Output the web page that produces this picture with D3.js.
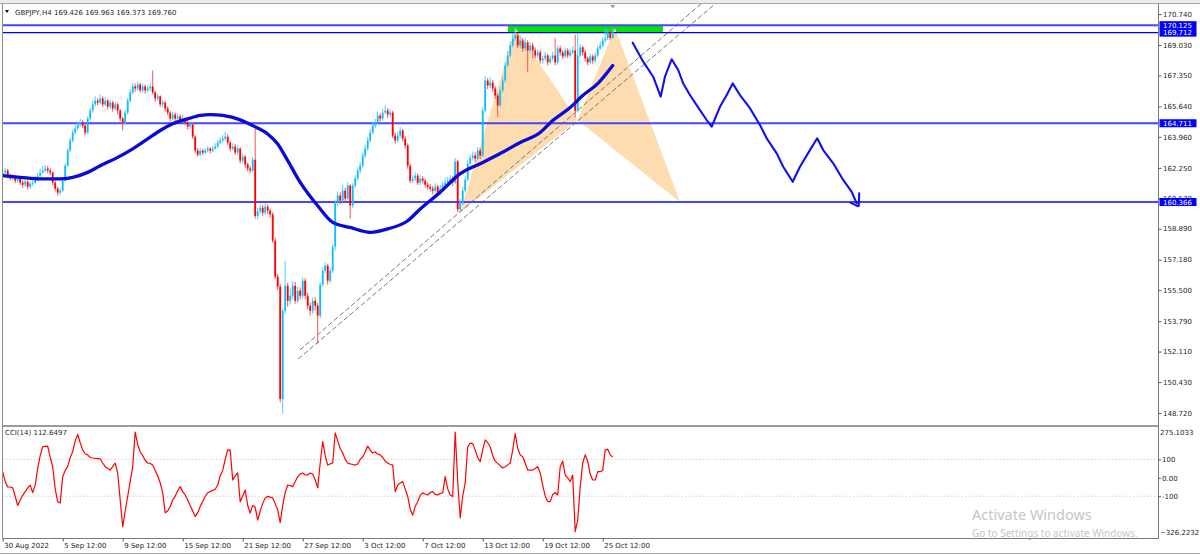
<!DOCTYPE html>
<html><head><meta charset="utf-8">
<script src="https://cdn.jsdelivr.net/npm/d3@7"></script>
<style>
html,body{margin:0;padding:0;background:#fff;overflow:hidden;}
svg{display:block;font-family:"DejaVu Sans",sans-serif;}
</style></head><body>
<svg id="c" width="1200" height="555"></svg>
<script>
// ---------------- DATA ----------------
const symbol = "GBPJPY,H4";
const firstOpen = 161.90;
const closes = [
161.99,162.10,161.82,161.66,161.77,161.54,161.66,161.43,161.32,161.49,
161.21,161.38,161.43,161.66,161.82,161.99,162.10,162.21,162.10,161.99,
161.43,161.10,160.88,160.99,161.54,162.37,163.20,163.76,164.20,164.42,
164.64,164.75,164.58,164.20,164.97,165.41,165.75,165.96,165.85,166.08,
165.75,165.96,165.63,165.85,165.52,165.75,165.41,164.97,164.75,165.30,
165.96,166.41,166.74,166.63,166.85,166.52,166.74,166.52,166.63,166.74,
166.41,166.08,166.19,165.75,165.85,165.52,165.30,164.97,165.19,164.97,
165.08,164.86,164.97,164.75,164.53,164.64,163.97,163.20,162.98,163.20,
163.09,163.20,163.31,163.20,163.31,163.42,163.64,163.76,163.86,163.97,
163.64,163.31,163.42,163.09,163.31,162.65,162.87,162.43,162.21,162.10,
162.70,159.60,159.85,160.05,159.78,160.11,159.89,159.67,158.23,156.24,
155.69,149.50,154.36,155.74,154.91,155.19,155.74,154.91,155.47,155.19,
156.02,155.19,154.64,154.36,154.91,154.64,154.09,155.80,156.57,156.85,
156.02,156.57,157.90,160.30,160.72,160.44,160.99,160.55,161.27,160.17,
161.27,161.66,162.10,162.37,162.93,163.31,163.76,164.20,164.58,164.75,
165.13,164.97,165.30,165.41,165.19,165.30,164.03,163.76,164.03,164.31,
163.86,163.48,162.37,161.54,161.66,161.82,161.43,161.66,161.54,161.32,
161.21,161.10,160.99,161.21,160.88,161.10,161.27,161.43,161.54,161.66,
161.43,162.60,159.95,160.30,161.00,161.60,162.50,162.80,162.93,162.76,
163.20,162.93,165.41,167.07,166.79,166.96,166.63,166.24,165.69,166.52,
167.07,167.90,168.45,169.00,169.39,169.56,169.00,169.28,168.84,169.17,
168.73,169.00,168.73,168.45,168.62,168.17,168.29,168.45,168.07,168.29,
168.45,168.07,168.84,168.62,168.40,168.73,168.45,168.62,168.73,165.40,
168.45,168.90,168.62,168.29,168.07,168.40,168.17,168.45,168.84,169.00,
169.28,169.39,169.72,169.426,169.760];
const highs = [
162.15,162.25,162.20,161.95,161.90,161.85,161.80,161.75,161.55,161.60,
161.55,161.50,161.55,161.80,161.95,162.20,162.35,162.40,162.35,162.25,
162.05,161.55,161.20,161.15,161.65,162.50,163.35,163.90,164.35,164.60,
164.80,164.95,164.90,164.70,165.10,165.55,165.95,166.20,166.10,166.30,
166.20,166.15,166.05,166.00,165.95,165.90,165.85,165.50,165.05,165.45,
166.10,166.60,166.95,166.90,167.00,166.95,166.90,166.85,166.80,166.95,
167.62,166.50,166.35,166.25,166.00,165.95,165.65,165.40,165.35,165.30,
165.25,165.20,165.15,165.05,164.85,164.80,164.75,164.05,163.35,163.35,
163.30,163.35,163.45,163.40,163.45,163.60,163.80,163.95,164.05,164.25,
164.10,163.75,163.60,163.55,163.50,163.40,163.05,162.95,162.55,162.35,
162.85,164.40,160.05,160.25,160.20,160.30,160.25,160.00,159.80,158.40,
156.40,155.85,154.50,157.12,155.90,155.60,156.00,155.95,155.70,155.65,
156.20,156.15,155.35,154.80,155.10,155.10,154.80,155.95,156.75,157.05,
156.95,156.75,158.05,160.45,160.95,160.90,161.30,161.15,161.45,161.35,
161.40,161.85,162.30,162.55,163.10,163.50,163.95,164.40,164.80,164.95,
165.35,165.25,165.50,165.69,165.55,165.50,165.40,164.20,164.25,164.50,
164.40,164.00,163.60,162.50,161.85,162.00,161.95,161.85,161.80,161.65,
161.45,161.35,161.25,161.40,161.30,161.30,161.50,161.70,161.75,161.85,
161.80,162.80,162.70,160.55,161.20,161.80,162.70,163.00,163.15,163.10,
163.40,163.35,165.60,167.30,167.20,167.25,167.10,166.75,166.35,166.70,
167.30,168.10,168.70,169.25,169.65,170.00,169.70,169.50,169.40,169.40,
169.30,169.20,169.15,168.90,168.80,168.75,168.45,168.65,168.55,168.45,
168.65,169.40,169.00,169.00,168.75,168.90,168.85,168.80,168.95,169.60,
169.65,169.10,169.00,168.75,168.40,168.55,168.50,168.60,169.00,169.20,
169.45,169.95,169.90,169.85,169.963];
const lows = [
161.80,161.90,161.70,161.55,161.55,161.40,161.45,161.30,161.15,161.20,
161.05,161.10,161.25,161.35,161.55,161.75,161.90,162.00,161.95,161.85,
161.30,160.95,160.72,160.75,160.90,161.45,162.30,163.10,163.65,164.10,
164.30,164.50,164.45,164.05,164.10,164.85,165.30,165.65,165.70,165.75,
165.60,165.65,165.45,165.50,165.35,165.40,165.20,164.80,164.31,164.65,
165.20,165.85,166.30,166.45,166.50,166.40,166.40,166.35,166.40,166.50,
166.30,165.90,165.95,165.60,165.60,165.35,165.15,164.80,164.85,164.80,
164.85,164.70,164.75,164.60,164.35,164.40,163.85,163.05,162.85,162.90,
162.95,163.00,163.10,163.05,163.10,163.25,163.35,163.55,163.65,163.75,
163.50,163.15,163.20,162.95,162.95,162.50,162.50,162.25,162.05,161.95,
162.00,159.45,159.40,159.70,159.60,159.65,159.70,159.50,158.10,156.10,
155.50,149.30,148.70,154.20,154.60,154.70,155.00,154.75,154.80,155.00,
155.05,155.00,154.45,154.10,154.20,154.40,152.54,153.95,155.70,156.45,
155.80,155.90,156.45,157.68,160.15,160.25,160.35,160.40,160.45,159.45,
160.05,161.15,161.55,161.95,162.25,162.80,163.20,163.65,164.10,164.45,
164.65,164.80,164.85,165.20,165.00,165.05,163.90,163.60,163.65,163.90,
163.70,163.30,162.20,161.40,161.40,161.50,161.30,161.30,161.40,161.15,
161.05,160.95,160.80,160.85,160.70,160.75,160.95,161.15,161.30,161.40,
161.25,161.35,159.80,159.85,160.20,160.90,161.50,162.40,162.65,162.55,
162.65,162.75,162.85,165.30,166.60,166.65,166.45,166.05,165.05,165.60,
166.40,166.95,167.80,168.35,168.90,169.25,168.85,168.85,168.65,168.70,
167.55,168.60,168.30,168.30,168.30,168.00,168.00,168.15,167.90,167.95,
168.15,167.90,167.95,168.45,168.25,168.30,168.30,168.35,168.50,165.05,
165.30,168.35,168.45,168.10,167.90,167.95,168.00,168.05,168.35,168.75,
168.90,169.15,169.30,169.30,169.373];
const cci = [
33,-20,-50,-50,-55,-100,-150,-120,-95,-75,
-55,-40,-80,-40,50,120,168,170,172,110,
60,-60,-130,-137,6,40,60,110,141,200,
235,190,150,130,124,110,107,105,104,102,
80,60,50,42,60,80,26,-120,-265,-180,
-100,-20,60,248,180,141,120,95,80,78,
69,40,10,-28,-82,-190,-180,-156,-120,-100,
-70,-48,-75,-93,-120,-150,-180,-210,-190,-155,
-129,-100,-81,-75,-68,-62,-40,10,40,100,
151,150,-12,10,26,-129,-100,-66,-150,-191,
-150,-160,-229,-180,-140,-110,-101,-105,-109,-140,
-174,-243,-150,-80,-39,-42,-48,-20,5,20,
26,15,15,26,20,-12,-55,80,196,120,
69,75,80,243,200,160,134,100,80,75,
72,69,75,100,114,140,172,150,134,140,
128,124,110,90,80,72,69,-75,-40,-28,
-21,-60,-100,-170,-202,-156,-130,-95,-82,-88,
-93,-80,-75,-90,-93,-85,-82,6,-60,-93,
-102,248,-20,-218,-100,-28,168,188,185,150,
110,87,150,205,190,168,120,90,78,65,
53,60,70,80,150,240,160,124,114,80,
42,42,42,50,60,26,-40,-100,-129,-129,
-90,-80,-93,60,90,15,0,-21,15,-292,
-229,-50,80,124,90,20,-12,-12,33,33,
40,150,155,124,112.6497];
const cciPeriod = 14;
const cciMax = 275.1033, cciMin = -326.2232;
const cciLevels = [100, 0, -100];
const cciLevelLabels = ["100", "0.00", "-100"];

// moving average (sampled at bar indices)
const maIdx = [0,7,15,23,28,34,39,46,52,58,63,68,74,79,83,88,95,100,106,110,114,119,126,132,139,147,154,162,167,175,183,191,199,207,215,220,227,232,238,244];
const maVal = [161.82,161.73,161.64,161.64,161.73,162.00,162.37,162.83,163.30,163.85,164.31,164.68,164.95,165.14,165.19,165.14,164.90,164.58,164.12,163.57,162.65,161.45,160.16,159.24,158.96,158.69,158.88,159.33,159.98,160.90,161.93,162.48,163.04,163.65,164.20,164.86,165.58,166.24,166.90,167.90];

// price axis ticks
const priceTicks = [170.740,169.030,167.350,165.640,163.960,162.250,160.570,158.890,157.180,155.500,153.790,152.110,150.430,148.720];
// horizontal levels
const levels = [170.125, 169.712, 164.711, 160.366];
// time axis
const timeIdx = [0,24,48,72,96,120,144,168,192,216,240];
const timeLabels = ["30 Aug 2022","5 Sep 12:00","9 Sep 12:00","15 Sep 12:00","21 Sep 12:00","27 Sep 12:00","3 Oct 12:00","7 Oct 12:00","13 Oct 12:00","19 Oct 12:00","25 Oct 12:00"];

// harmonic pattern X A B C D
const patternBar = [182.9, 205.1, 229.9, 244.9, 270.9];
const patternPrice = [159.76, 169.97, 164.89, 169.97, 160.37];
// green zone
const zoneBar = [202.1, 264.1];
const zonePrice = [170.125, 169.73];
// trend channel lines (bar, price)
const trendA = [[118.9, 152.20], [285.0, 171.97]];
const trendB = [[118.2, 151.70], [290.0, 171.89]];
// hand drawn forecast
const zzBar = [252.0,256.2,260.2,263.2,264.9,267.6,270.2,272.2,274.9,278.9,281.6,283.6,286.9,289.6,292.0,294.9,298.9,302.9,305.6,309.6,312.2,316.0,318.9,322.9,325.8,328.2,332.2,336.2,339.6,341.6];
const zzPrice = [169.16,168.11,167.28,166.18,167.28,168.24,167.65,166.91,166.27,165.44,164.89,164.52,165.62,166.27,166.91,166.27,165.54,164.61,163.88,163.05,162.31,161.48,162.31,163.23,163.88,163.23,162.50,161.58,160.93,160.29];
const arrowA = [[339.1,160.33],[342.0,160.14]];
const arrowB = [[342.6,160.84],[342.4,160.14]];

// ---------------- LAYOUT ----------------
const svg = d3.select("#c");
const Lx = 2.5, Rx = 1158.5, Ty = 3.5, MB = 425.5, CT = 427, CB = 538.5;
const FONT = 7, TXT = "#1e1e1e";

const x = d3.scaleLinear().domain([0, 24]).range([2.7, 62.7]);
const y = d3.scaleLinear().domain([148.72, 169.03]).range([413, 45]);
const yc = d3.scaleLinear().domain([cciMin, cciMax]).range([CB - 0.5, CT]);

svg.append("rect").attr("width",1200).attr("height",555).attr("fill","#fff");
svg.append("rect").attr("x",0).attr("y",0).attr("width",1200).attr("height",3).attr("fill","#ececec");

const defs = svg.append("defs");
defs.append("clipPath").attr("id","mainClip").append("rect")
  .attr("x",Lx).attr("y",Ty).attr("width",Rx-Lx).attr("height",MB-Ty);
defs.append("clipPath").attr("id","cciClip").append("rect")
  .attr("x",Lx).attr("y",CT).attr("width",Rx-Lx).attr("height",CB-CT);

const main = svg.append("g").attr("clip-path","url(#mainClip)");

// green zone
main.append("rect")
  .attr("x", x(zoneBar[0])).attr("width", x(zoneBar[1]) - x(zoneBar[0]))
  .attr("y", y(zonePrice[0])).attr("height", y(zonePrice[1]) - y(zonePrice[0]))
  .attr("fill", "#00e400");

// harmonic triangles
const pts = patternBar.map((b,i)=>[x(b), y(patternPrice[i])]);
[[0,1,2],[2,3,4]].forEach(t=>{
  main.append("path")
    .attr("d", "M" + t.map(k=>pts[k].join(",")).join("L") + "Z")
    .attr("fill", "#fddcb0");
});

// trend channel
[trendA, trendB].forEach(tl=>{
  main.append("line")
    .attr("x1", x(tl[0][0])).attr("y1", y(tl[0][1]))
    .attr("x2", x(tl[1][0])).attr("y2", y(tl[1][1]))
    .attr("stroke", "#6a6a6a").attr("stroke-width", 0.9)
    .attr("stroke-dasharray", "5,2.5");
});

// horizontal levels
const levelStyle = [{c:"#4646ff",w:2},{c:"#0000ff",w:1.3},{c:"#4646ff",w:2},{c:"#4646ff",w:2}];
levels.forEach((lv,i)=>{
  main.append("line").attr("x1",Lx).attr("x2",Rx)
    .attr("y1", y(lv)).attr("y2", y(lv))
    .attr("stroke", levelStyle[i].c).attr("stroke-width", levelStyle[i].w);
});

// candles
const bars = closes.map((c,i)=>({i, o: i ? closes[i-1] : firstOpen, c, h: highs[i], l: lows[i]}));
const cg = main.append("g");
const cand = cg.selectAll("g").data(bars).join("g");
cand.append("line")
  .attr("x1", d=>x(d.i)).attr("x2", d=>x(d.i))
  .attr("y1", d=>y(Math.max(d.h, d.o, d.c))).attr("y2", d=>y(Math.min(d.l, d.o, d.c)))
  .attr("stroke", d=> d.c >= d.o ? "#4ccfff" : "#ff5050")
  .attr("stroke-width", 1.0);
cand.append("rect")
  .attr("x", d=>x(d.i) - 0.9).attr("width", 1.8)
  .attr("y", d=>y(Math.max(d.o, d.c)))
  .attr("height", d=>Math.max(0.8, Math.abs(y(d.o) - y(d.c))))
  .attr("fill", d=> d.c >= d.o ? "#10bcff" : "#ff0000");

// moving average
const maData = maIdx.map((b,i)=>({b, v: maVal[i]}));
main.append("path").datum(maData)
  .attr("d", d3.line().x(d=>x(d.b)).y(d=>y(d.v)).curve(d3.curveMonotoneX))
  .attr("fill","none").attr("stroke","#0a0ad8").attr("stroke-width",3.3)
  .attr("stroke-linecap","round");

// forecast zigzag
const zz = zzBar.map((b,i)=>[b, zzPrice[i]]);
const lineXY = d3.line().x(d=>x(d[0])).y(d=>y(d[1]));
[zz, arrowA, arrowB].forEach(p=>{
  main.append("path").datum(p).attr("d", lineXY)
    .attr("fill","none").attr("stroke","#1010f0").attr("stroke-width",2.1)
    .attr("stroke-linejoin","round").attr("stroke-linecap","round");
});

// chart shift marker
const last = bars[bars.length-1];
svg.append("path")
  .attr("d", `M${x(last.i)-2.5},5 L${x(last.i)+2.5},5 L${x(last.i)},8.5 Z`)
  .attr("fill","#9a9a9a");

// header
svg.append("path").attr("d","M5,10 L9,10 L7,13 Z").attr("fill","#111");
svg.append("text").attr("x",15).attr("y",14.5)
  .attr("font-size",FONT).attr("fill",TXT)
  .text(`${symbol}  ${d3.format(".3f")(last.o)} ${d3.format(".3f")(last.h)} ${d3.format(".3f")(last.l)} ${d3.format(".3f")(last.c)}`);

// ---------------- CCI ----------------
const cciG = svg.append("g").attr("clip-path","url(#cciClip)");
cciLevels.filter(v=>v!==0).forEach(v=>{
  cciG.append("line").attr("x1",Lx).attr("x2",Rx).attr("y1",yc(v)).attr("y2",yc(v))
    .attr("stroke","#c4c4c4").attr("stroke-width",0.8).attr("stroke-dasharray","1.5,2");
});
cciG.append("path").datum(cci)
  .attr("d", d3.line().x((d,i)=>x(i)).y(d=>yc(d)))
  .attr("fill","none").attr("stroke","#ff0000").attr("stroke-width",1.2)
  .attr("stroke-linejoin","round");
svg.append("text").attr("x",5).attr("y",435)
  .attr("font-size",FONT).attr("fill",TXT)
  .text(`CCI(${cciPeriod}) ${d3.format(".4f")(cci[cci.length-1])}`);

// ---------------- FRAME ----------------
svg.append("line").attr("x1",Lx).attr("x2",Lx).attr("y1",Ty).attr("y2",CB).attr("stroke","#8c8c8c");
svg.append("line").attr("x1",0).attr("x2",1200).attr("y1",Ty).attr("y2",Ty).attr("stroke","#a8a8a8");
svg.append("line").attr("x1",Rx).attr("x2",Rx).attr("y1",Ty).attr("y2",CB).attr("stroke","#7a7a7a");
svg.append("line").attr("x1",Lx).attr("x2",Rx).attr("y1",426).attr("y2",426).attr("stroke","#7a7a7a").attr("stroke-width",1.6);
svg.append("line").attr("x1",Lx).attr("x2",Rx).attr("y1",CB).attr("y2",CB).attr("stroke","#7a7a7a");
svg.append("line").attr("x1",0).attr("x2",1200).attr("y1",553.5).attr("y2",553.5).attr("stroke","#a8a8a8");

// ---------------- AXES ----------------
const pAxis = svg.append("g").attr("transform",`translate(${Rx},0)`)
  .call(d3.axisRight(y).tickValues(priceTicks).tickFormat(d3.format(".3f")).tickSize(3).tickPadding(1.5));
pAxis.select(".domain").remove();
pAxis.selectAll("text").attr("font-size",FONT).attr("fill",TXT).attr("font-family","DejaVu Sans");
pAxis.selectAll("line").attr("stroke","#555");

// level labels
levels.forEach(lv=>{
  const yy = y(lv);
  svg.append("rect").attr("x",Rx+1).attr("y",yy-4).attr("width",37).attr("height",8).attr("fill","#0000ff");
  svg.append("text").attr("x",Rx+4.5).attr("y",yy).attr("dy","0.36em")
    .attr("font-size",FONT).attr("fill","#fff").text(d3.format(".3f")(lv));
});

const cAxis = svg.append("g").attr("transform",`translate(${Rx},0)`)
  .call(d3.axisRight(yc).tickValues(cciLevels).tickFormat((d,i)=>cciLevelLabels[i]).tickSize(2.5).tickPadding(1));
cAxis.select(".domain").remove();
cAxis.selectAll("text").attr("font-size",FONT).attr("fill",TXT).attr("font-family","DejaVu Sans");
cAxis.selectAll("line").attr("stroke","#555");
svg.append("text").attr("x",Rx+1.5).attr("y",CT+5.5).attr("dy","0.36em").attr("font-size",FONT).attr("fill",TXT).text(d3.format(".4f")(cciMax));
svg.append("text").attr("x",Rx+1.5).attr("y",CB-6).attr("dy","0.36em").attr("font-size",FONT).attr("fill",TXT).text(d3.format(".4f")(cciMin));

const tAxis = svg.append("g").attr("transform",`translate(0,${CB})`)
  .call(d3.axisBottom(x).tickValues(timeIdx).tickFormat((d,i)=>timeLabels[i]).tickSize(3).tickPadding(1.5));
tAxis.select(".domain").remove();
tAxis.selectAll("text").attr("font-size",FONT).attr("fill",TXT).attr("font-family","DejaVu Sans")
  .attr("text-anchor","start").attr("x",1);
tAxis.selectAll("line").attr("stroke","#555");

// ---------------- WATERMARK ----------------
svg.append("text").attr("x",972).attr("y",520).attr("font-family","Noto Sans")
  .attr("font-size",14.5).attr("fill","#c6c6c6").text("Activate Windows");
svg.append("text").attr("x",972).attr("y",537).attr("font-family","Noto Sans")
  .attr("font-size",10).attr("fill","#c6c6c6").text("Go to Settings to activate Windows.");
</script>
</body></html>
